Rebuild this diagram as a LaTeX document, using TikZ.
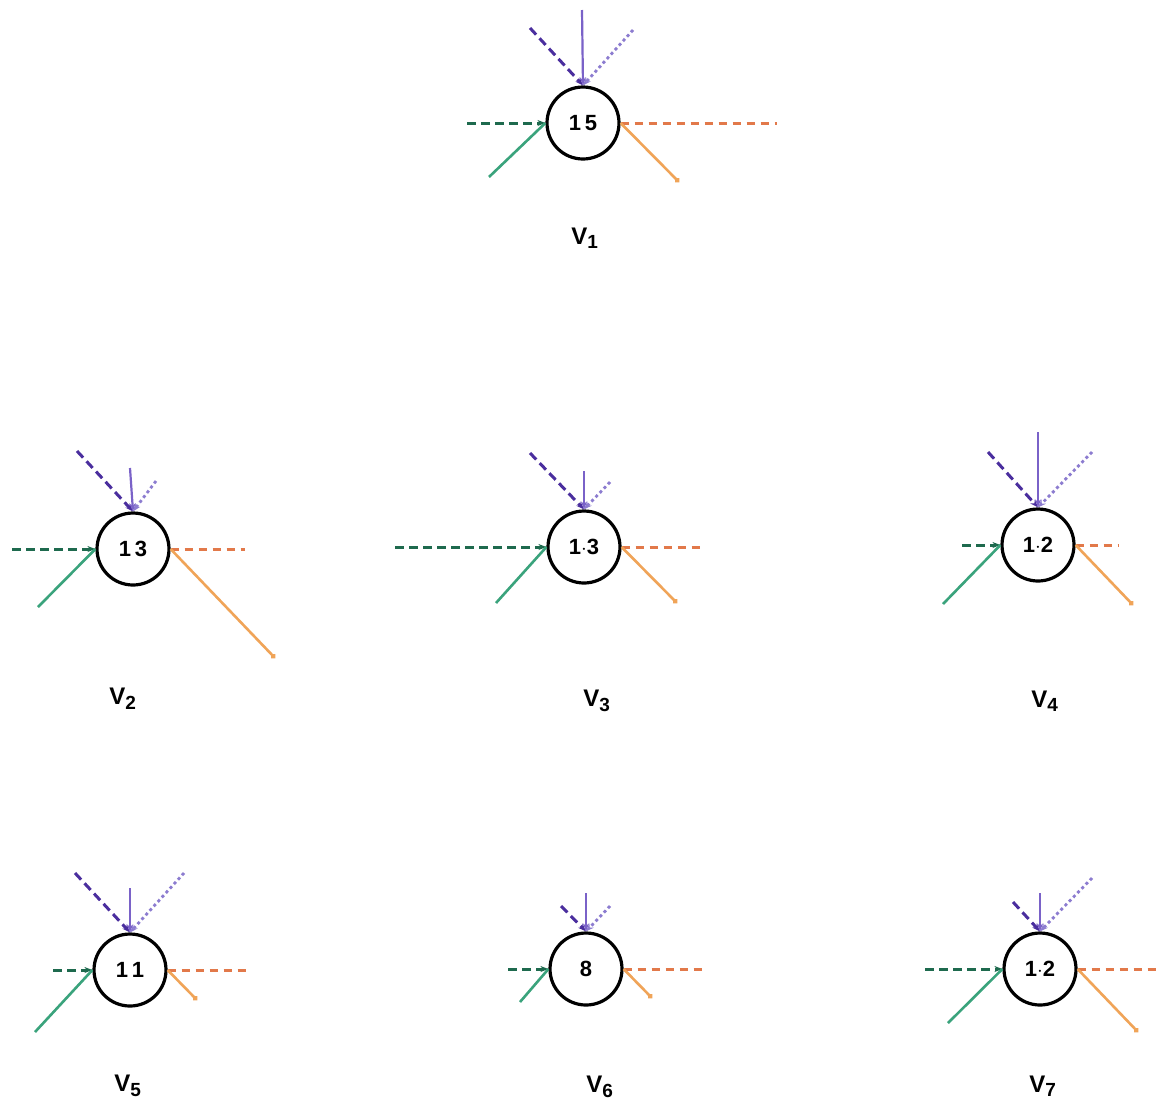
\documentclass[tikz,border=0pt]{standalone}
\usepackage{fontspec}
\setmainfont{Liberation Sans}
\usetikzlibrary{arrows.meta}
\definecolor{pdash}{HTML}{4A2E9E}
\definecolor{psolid}{HTML}{7A62C8}
\definecolor{pdot}{HTML}{8C7CD0}
\definecolor{gdash}{HTML}{1E6A4E}
\definecolor{gsolid}{HTML}{3AA37C}
\definecolor{odash}{HTML}{E2794A}
\definecolor{osolid}{HTML}{F0A458}
\tikzset{
  vert/.style={circle, draw=black, line width=3.2pt, minimum size=72pt, inner sep=0pt, font=\fontsize{22}{22}\selectfont\bfseries},
  vlabel/.style={font=\fontsize{24}{24}\selectfont\bfseries},
  pd/.style={pdash, line width=3pt, dash pattern=on 9pt off 5pt, -{Stealth[length=8pt,width=6pt]}},
  ps/.style={psolid, line width=2.2pt, -{Stealth[length=8pt,width=6pt]}},
  pt/.style={pdot, line width=2.8pt, dash pattern=on 3pt off 3pt, -{Stealth[length=8pt,width=6pt]}},
  gd/.style={gdash, line width=3pt, dash pattern=on 9pt off 5pt, -{Stealth[length=8pt,width=6pt]}},
  gs/.style={gsolid, line width=2.6pt},
  od/.style={odash, line width=3pt, dash pattern=on 8pt off 6pt},
  os/.style={osolid, line width=2.6pt, -{Circle[length=5pt]}},
}
\newcommand{\vl}[1]{V\textsubscript{\fontsize{19}{19}\selectfont #1}}
\begin{document}
\begin{tikzpicture}[x=1pt,y=-1pt]
\useasboundingbox (0,0) rectangle (1161,1104);
\fill[white] (0,0) rectangle (1161,1104);

% V1
\node[vert] (v1) at (583,123) {1\,5};
\coordinate (v1p1) at (530,28); \coordinate (v1p2) at (582,10); \coordinate (v1p3) at (633,30);
\coordinate (v1g1) at (467,123); \coordinate (v1g2) at (489,177);
\coordinate (v1o1) at (777,123); \coordinate (v1o2) at (679,182);
\draw[pd] (v1p1) -- (v1.north);
\draw[pt] (v1p3) -- (v1.north);
\draw[ps] (v1p2) -- (v1.north);
\draw[gd] (v1g1) -- (v1.west);
\draw[gs] (v1g2) -- (v1.west);
\draw[od] (v1.east) -- (v1o1);
\draw[os] (v1.east) -- (v1o2);
\node[vlabel] (l1) at (585,238) {\vl{1}};

% V2
\node[vert] (v2) at (133,549) {1\,3};
\coordinate (v2p1) at (77,451); \coordinate (v2p2) at (130,468); \coordinate (v2p3) at (156,481);
\coordinate (v2g1) at (12,549); \coordinate (v2g2) at (38,607);
\coordinate (v2o1) at (245,549); \coordinate (v2o2) at (275,658);
\draw[pd] (v2p1) -- (v2.north);
\draw[pt] (v2p3) -- (v2.north);
\draw[ps] (v2p2) -- (v2.north);
\draw[gd] (v2g1) -- (v2.west);
\draw[gs] (v2g2) -- (v2.west);
\draw[od] (v2.east) -- (v2o1);
\draw[os] (v2.east) -- (v2o2);
\node[vlabel] (l2) at (123,699) {\vl{2}};

% V3
\node[vert] (v3) at (584,547) {1$\cdot$3};
\coordinate (v3p1) at (530,453); \coordinate (v3p2) at (584,471); \coordinate (v3p3) at (610,482);
\coordinate (v3g1) at (395,547); \coordinate (v3g2) at (496,603);
\coordinate (v3o1) at (702,547); \coordinate (v3o2) at (677,603);
\draw[pd] (v3p1) -- (v3.north);
\draw[pt] (v3p3) -- (v3.north);
\draw[ps] (v3p2) -- (v3.north);
\draw[gd] (v3g1) -- (v3.west);
\draw[gs] (v3g2) -- (v3.west);
\draw[od] (v3.east) -- (v3o1);
\draw[os] (v3.east) -- (v3o2);
\node[vlabel] (l3) at (597,701) {\vl{3}};

% V4
\node[vert] (v4) at (1038,545) {1$\cdot$2};
\coordinate (v4p1) at (988,452); \coordinate (v4p2) at (1038,432); \coordinate (v4p3) at (1092,452);
\coordinate (v4g1) at (962,545); \coordinate (v4g2) at (943,604);
\coordinate (v4o1) at (1118,545); \coordinate (v4o2) at (1133,605);
\draw[pd] (v4p1) -- (v4.north);
\draw[pt] (v4p3) -- (v4.north);
\draw[ps] (v4p2) -- (v4.north);
\draw[gd] (v4g1) -- (v4.west);
\draw[gs] (v4g2) -- (v4.west);
\draw[od] (v4.east) -- (v4o1);
\draw[os] (v4.east) -- (v4o2);
\node[vlabel] (l4) at (1045,701) {\vl{4}};

% V5
\node[vert] (v5) at (130,970) {1\,1};
\coordinate (v5p1) at (75,873); \coordinate (v5p2) at (130,888); \coordinate (v5p3) at (184,873);
\coordinate (v5g1) at (53,970); \coordinate (v5g2) at (35,1032);
\coordinate (v5o1) at (249,970); \coordinate (v5o2) at (197,1000);
\draw[pd] (v5p1) -- (v5.north);
\draw[pt] (v5p3) -- (v5.north);
\draw[ps] (v5p2) -- (v5.north);
\draw[gd] (v5g1) -- (v5.west);
\draw[gs] (v5g2) -- (v5.west);
\draw[od] (v5.east) -- (v5o1);
\draw[os] (v5.east) -- (v5o2);
\node[vlabel] (l5) at (128,1086) {\vl{5}};

% V6
\node[vert] (v6) at (586,969) {8};
\coordinate (v6p1) at (561,906); \coordinate (v6p2) at (586,893); \coordinate (v6p3) at (610,906);
\coordinate (v6g1) at (508,969); \coordinate (v6g2) at (520,1002);
\coordinate (v6o1) at (702,969); \coordinate (v6o2) at (652,998);
\draw[pd] (v6p1) -- (v6.north);
\draw[pt] (v6p3) -- (v6.north);
\draw[ps] (v6p2) -- (v6.north);
\draw[gd] (v6g1) -- (v6.west);
\draw[gs] (v6g2) -- (v6.west);
\draw[od] (v6.east) -- (v6o1);
\draw[os] (v6.east) -- (v6o2);
\node[vlabel] (l6) at (600,1087) {\vl{6}};

% V7
\node[vert] (v7) at (1040,969) {1$\cdot$2};
\coordinate (v7p1) at (1013,902); \coordinate (v7p2) at (1040,893); \coordinate (v7p3) at (1092,878);
\coordinate (v7g1) at (925,969); \coordinate (v7g2) at (948,1023);
\coordinate (v7o1) at (1160,969); \coordinate (v7o2) at (1138,1032);
\draw[pd] (v7p1) -- (v7.north);
\draw[pt] (v7p3) -- (v7.north);
\draw[ps] (v7p2) -- (v7.north);
\draw[gd] (v7g1) -- (v7.west);
\draw[gs] (v7g2) -- (v7.west);
\draw[od] (v7.east) -- (v7o1);
\draw[os] (v7.east) -- (v7o2);
\node[vlabel] (l7) at (1043,1086) {\vl{7}};
\end{tikzpicture}
\end{document}
